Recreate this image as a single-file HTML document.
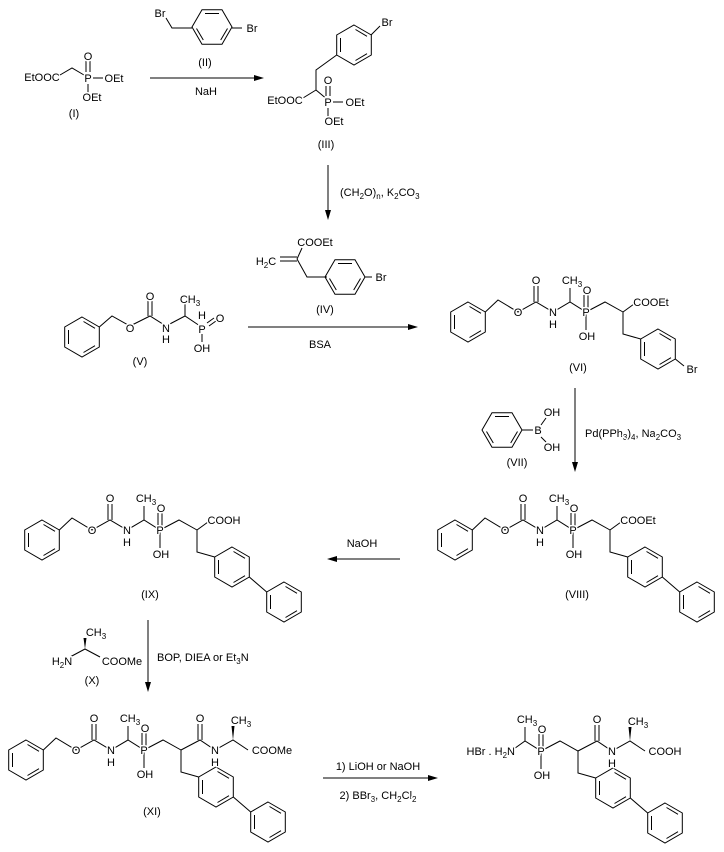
<!DOCTYPE html>
<html><head><meta charset="utf-8"><style>
html,body{margin:0;padding:0;background:#fff}
svg{display:block}
text{font-family:"Liberation Sans",sans-serif;font-size:11px;fill:#000;text-anchor:middle;stroke:#fff;stroke-width:3px;paint-order:stroke;stroke-linejoin:round}
.s{font-size:8px}
line,polyline,polygon.r{stroke:#000;stroke-width:1;fill:none}
</style></head><body>
<svg width="724" height="852" viewBox="0 0 724 852" xmlns="http://www.w3.org/2000/svg">
<defs>
<g id="rv"><polygon class="r" points="0,-20 17.3,-10 17.3,10 0,20 -17.3,10 -17.3,-10"/><line x1="1.5" y1="-15.5" x2="13" y2="-8.7"/><line x1="13" y1="8.7" x2="1.5" y2="15.5"/><line x1="-13.5" y1="7" x2="-13.5" y2="-7"/></g>
<g id="rh"><polygon class="r" points="-20,0 -10,-17.3 10,-17.3 20,0 10,17.3 -10,17.3"/><line x1="-7" y1="-13.5" x2="7" y2="-13.5"/><line x1="15.5" y1="1.5" x2="8.7" y2="13"/><line x1="-8.7" y1="13" x2="-15.5" y2="1.5"/></g>
<g id="left">
<use href="#rv"/>
<polyline points="17.3,-10 30,-22 50,-10 68,-20 85,-10 102,-20 118,-10 137,-20 155,-10"/>
<line x1="66" y1="-20" x2="66" y2="-36"/><line x1="70" y1="-20" x2="70" y2="-36"/>
<line x1="102" y1="-20" x2="102" y2="-34"/>
<line x1="118" y1="-10" x2="118" y2="8"/>
<line x1="116" y1="-14" x2="116" y2="-27"/><line x1="120" y1="-14" x2="120" y2="-27"/>
<polyline points="155,-10 155,12 172.7,17"/>
<text x="50" y="-6">O</text>
<text x="68" y="-38">O</text>
<text x="85" y="-6">N</text><text x="85" y="6">H</text>
<text x="104" y="-38">CH<tspan class="s" dy="3">3</tspan></text>
<text x="118" y="-6">P</text>
<text x="119" y="-28">O</text>
<text x="119" y="18">OH</text>
</g>
<g id="bip">
<use href="#rv" x="190" y="27"/>
<line x1="207.3" y1="37" x2="224.7" y2="52"/>
<use href="#rv" x="242" y="62"/>
</g>
</defs>

<text x="42" y="81">EtOOC</text>
<polyline points="60,75 72,68 84,75"/>
<text x="88" y="82">P</text>
<line x1="86" y1="72" x2="86" y2="60"/><line x1="90" y1="72" x2="90" y2="60"/>
<text x="88" y="60">O</text>
<line x1="93" y1="78" x2="103" y2="78"/>
<text x="114" y="82">OEt</text>
<line x1="88" y1="84" x2="88" y2="94"/>
<text x="92" y="101">OEt</text>
<text x="74" y="117">(I)</text>

<line x1="150" y1="78" x2="258" y2="78"/><polygon points="264,78 254,75 254,81"/>
<text x="205" y="66">(II)</text>
<text x="206" y="95">NaH</text>
<use href="#rh" x="212" y="27"/>
<polyline points="166,18 172,28 192,28"/>
<text x="160" y="17">Br</text>
<line x1="232" y1="28" x2="242" y2="28"/>
<text x="252" y="32">Br</text>

<use href="#rv" x="354" y="45"/>
<line x1="380" y1="26" x2="371" y2="35"/>
<text x="387" y="26">Br</text>
<polyline points="336.7,55 316,70 316,90 328,100"/>
<polyline points="316,90 303,98"/>
<text x="285" y="104">EtOOC</text>
<text x="328" y="106">P</text>
<line x1="326" y1="96" x2="326" y2="86"/><line x1="330" y1="96" x2="330" y2="86"/>
<text x="328" y="84">O</text>
<line x1="333" y1="102" x2="343" y2="102"/>
<text x="355" y="106">OEt</text>
<line x1="328" y1="108" x2="328" y2="117"/>
<text x="334" y="125">OEt</text>
<text x="326" y="148">(III)</text>

<line x1="328" y1="165" x2="328" y2="214"/><polygon points="328,220 325,210 331,210"/>
<text x="340" y="196" style="text-anchor:start">(CH<tspan class="s" dy="3">2</tspan><tspan dy="-3">O)</tspan><tspan class="s" dy="3">n</tspan><tspan dy="-3">, K</tspan><tspan class="s" dy="3">2</tspan><tspan dy="-3">CO</tspan><tspan class="s" dy="3">3</tspan></text>

<text x="315" y="246">COOEt</text>
<line x1="297" y1="259" x2="302" y2="248"/>
<line x1="280" y1="257" x2="297" y2="257"/><line x1="280" y1="261" x2="297" y2="261"/>
<text x="266" y="265">H<tspan class="s" dy="3">2</tspan><tspan dy="-3">C</tspan></text>
<polyline points="297,259 307,277 327,277"/>
<use href="#rh" x="345" y="277"/>
<line x1="365" y1="277" x2="372" y2="277"/>
<text x="381" y="281">Br</text>
<text x="325" y="313">(IV)</text>

<line x1="248" y1="327" x2="412" y2="327"/><polygon points="418,327 408,324 408,330"/>
<text x="320" y="348">BSA</text>

<use href="#rv" x="82" y="337"/>
<polyline points="99.3,327 112,316 130,326 150,316 166,326 185,316 200,326"/>
<line x1="148" y1="316" x2="148" y2="301"/><line x1="152" y1="316" x2="152" y2="301"/>
<line x1="185" y1="316" x2="185" y2="303"/>
<line x1="202" y1="334" x2="202" y2="342"/>
<line x1="207" y1="323" x2="214" y2="318"/><line x1="209" y1="326" x2="216" y2="321"/>
<text x="130" y="332">O</text>
<text x="150" y="300">O</text>
<text x="166" y="332">N</text><text x="166" y="343">H</text>
<text x="190" y="303">CH<tspan class="s" dy="3">3</tspan></text>
<text x="202" y="333">P</text><text x="202" y="319">H</text>
<text x="220" y="322">O</text>
<text x="202" y="352">OH</text>
<text x="140" y="365">(V)</text>

<g transform="translate(468,322)">
<use href="#left"/>
<line x1="155" y1="-10" x2="166" y2="-18"/>
<text x="183" y="-16">COOEt</text>
<use href="#rv" x="190" y="27"/>
<line x1="207.3" y1="37" x2="216" y2="44"/>
<text x="224" y="51">Br</text>
</g>
<text x="578" y="371">(VI)</text>

<use href="#rh" x="502" y="430"/>
<line x1="522" y1="430" x2="533" y2="430"/>
<text x="538" y="434">B</text>
<line x1="541" y1="425" x2="546" y2="418"/><line x1="541" y1="437" x2="546" y2="442"/>
<text x="552" y="416">OH</text>
<text x="552" y="451">OH</text>
<text x="517" y="466">(VII)</text>
<line x1="575" y1="388" x2="575" y2="466"/><polygon points="575,472 572,462 578,462"/>
<text x="585" y="437" style="text-anchor:start">Pd(PPh<tspan class="s" dy="3">3</tspan><tspan dy="-3">)</tspan><tspan class="s" dy="3">4</tspan><tspan dy="-3">, Na</tspan><tspan class="s" dy="3">2</tspan><tspan dy="-3">CO</tspan><tspan class="s" dy="3">3</tspan></text>

<g transform="translate(455,540)">
<use href="#left"/><use href="#bip"/>
<line x1="155" y1="-10" x2="166" y2="-18"/>
<text x="183" y="-16">COOEt</text>
</g>
<text x="577" y="598">(VIII)</text>

<line x1="400" y1="559" x2="333" y2="559"/><polygon points="327,559 337,556 337,562"/>
<text x="362" y="547">NaOH</text>

<g transform="translate(42,540)">
<use href="#left"/><use href="#bip"/>
<line x1="155" y1="-10" x2="166" y2="-18"/>
<text x="182" y="-16">COOH</text>
</g>
<text x="150" y="598">(IX)</text>

<line x1="148" y1="620" x2="148" y2="686"/><polygon points="148,692 145,682 151,682"/>
<text x="157" y="661" style="text-anchor:start">BOP, DIEA or Et<tspan class="s" dy="3">3</tspan><tspan dy="-3">N</tspan></text>

<text x="96" y="636">CH<tspan class="s" dy="3">3</tspan></text>
<polygon points="85,649 83.5,638 86.5,638" fill="#000"/>
<polyline points="70,657 85,649 100,657"/>
<text x="62" y="665">H<tspan class="s" dy="3">2</tspan><tspan dy="-3">N</tspan></text>
<text x="122" y="665">COOMe</text>
<text x="92" y="684">(X)</text>

<g transform="translate(26,760)">
<use href="#left"/><use href="#bip"/>
<polyline points="155,-10 174,-20 189,-10 207,-20 222,-10"/>
<line x1="172" y1="-20" x2="172" y2="-36"/><line x1="176" y1="-20" x2="176" y2="-36"/>
<polygon points="207,-20 205.5,-34 208.5,-34" fill="#000"/>
<text x="174" y="-38">O</text>
<text x="189" y="-6">N</text><text x="189" y="6">H</text>
<text x="215" y="-36">CH<tspan class="s" dy="3">3</tspan></text>
<text x="246" y="-6">COOMe</text>
</g>
<text x="152" y="815">(XI)</text>

<line x1="323" y1="778" x2="432" y2="778"/><polygon points="438,778 428,775 428,781"/>
<text x="378" y="770">1) LiOH or NaOH</text>
<text x="378" y="799">2) BBr<tspan class="s" dy="3">3</tspan><tspan dy="-3">, CH</tspan><tspan class="s" dy="3">2</tspan><tspan dy="-3">Cl</tspan><tspan class="s" dy="3">2</tspan></text>

<g transform="translate(423,761)">
<use href="#bip"/>
<polyline points="88,-10 102,-20 118,-10 137,-20 155,-10 174,-20 189,-10 207,-20 222,-10"/>
<polyline points="155,-10 155,12 172.7,17"/>
<line x1="102" y1="-20" x2="102" y2="-34"/>
<line x1="118" y1="-10" x2="118" y2="8"/>
<line x1="116" y1="-14" x2="116" y2="-27"/><line x1="120" y1="-14" x2="120" y2="-27"/>
<line x1="172" y1="-20" x2="172" y2="-36"/><line x1="176" y1="-20" x2="176" y2="-36"/>
<polygon points="207,-20 205.5,-34 208.5,-34" fill="#000"/>
<text x="92" y="-6" style="text-anchor:end">HBr . H<tspan class="s" dy="3">2</tspan><tspan dy="-3">N</tspan></text>
<text x="104" y="-38">CH<tspan class="s" dy="3">3</tspan></text>
<text x="118" y="-6">P</text>
<text x="119" y="-28">O</text>
<text x="119" y="18">OH</text>
<text x="174" y="-38">O</text>
<text x="189" y="-6">N</text><text x="189" y="6">H</text>
<text x="215" y="-36">CH<tspan class="s" dy="3">3</tspan></text>
<text x="242" y="-6">COOH</text>
</g>
</svg>
</body></html>
